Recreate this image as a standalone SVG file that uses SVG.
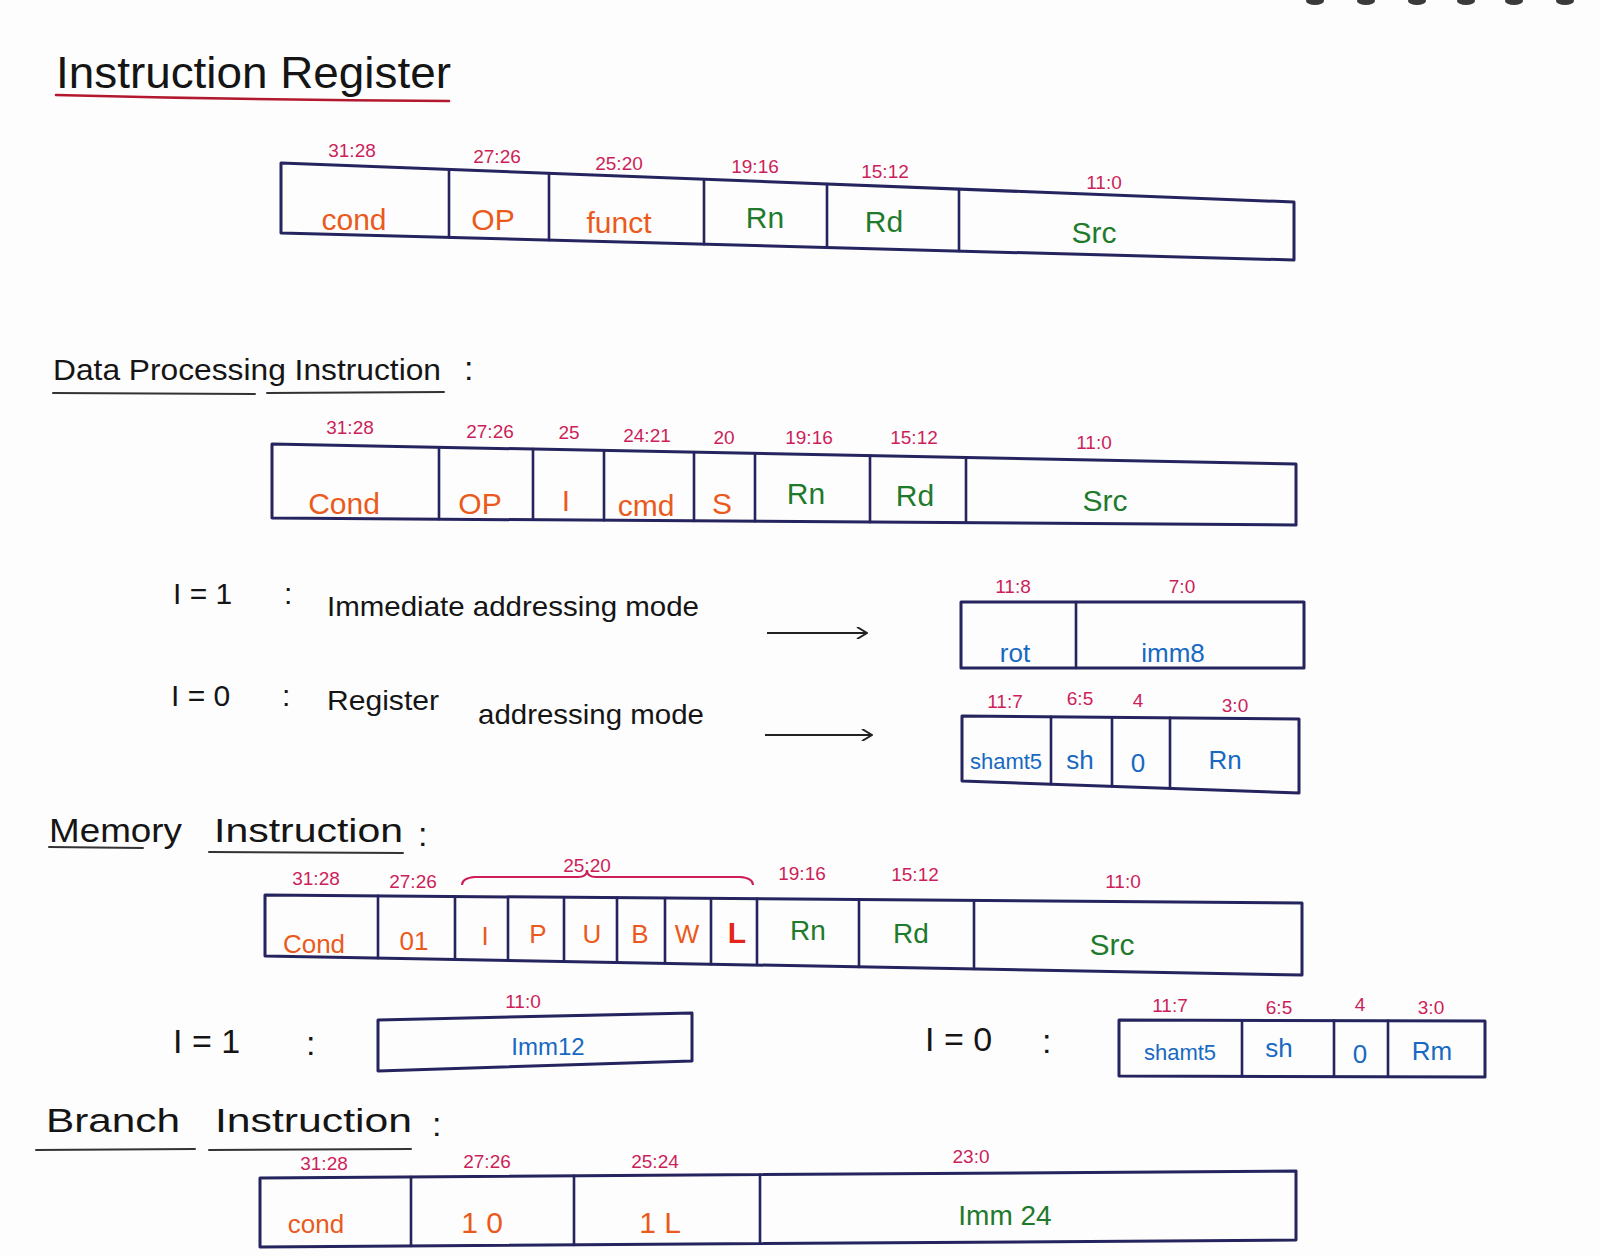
<svg xmlns="http://www.w3.org/2000/svg" width="1600" height="1256" viewBox="0 0 1600 1256">
<defs>
<style>
.bg{fill:#fdfdfd}
.box{fill:none;stroke:#25245e;stroke-width:3;stroke-linejoin:round;stroke-linecap:round}
.div{stroke:#25245e;stroke-width:2.6;stroke-linecap:round}
.title{font-family:"Liberation Sans",Arial,sans-serif;font-size:38px;fill:#151515}
.hw{font-family:"Liberation Sans",Arial,sans-serif;font-size:34px;fill:#151515}
.ul{fill:none;stroke:#333;stroke-width:2;stroke-linecap:round}
.ulr{fill:none;stroke:#b3192e;stroke-width:2.6;stroke-linecap:round}
.lbl{font-family:"Liberation Sans",Arial,sans-serif;font-size:19px;fill:#cc1f5a;text-anchor:middle}
.or{font-family:"Liberation Sans",Arial,sans-serif;font-size:30px;fill:#ea5a1c;text-anchor:middle}
.gr{font-family:"Liberation Sans",Arial,sans-serif;font-size:30px;fill:#1f7a2c;text-anchor:middle}
.bl{font-family:"Liberation Sans",Arial,sans-serif;font-size:26px;fill:#1769c2;text-anchor:middle}
.red{font-family:"Liberation Sans",Arial,sans-serif;font-size:30px;fill:#e2261a;font-weight:bold;text-anchor:middle}
.arr{stroke:#222;stroke-width:2.2;fill:none}
.brace{fill:none;stroke:#cc1f5a;stroke-width:2}
</style>
<marker id="ah" viewBox="0 0 12 12" refX="11" refY="6" markerWidth="12" markerHeight="12" markerUnits="userSpaceOnUse" orient="auto">
<path d="M1,0 L11,6 L1,12" fill="none" stroke="#222" stroke-width="2"/>
</marker>
</defs>
<rect class="bg" x="0" y="0" width="1600" height="1256"/>
<g id="binding" fill="#3a3a3a">
<ellipse cx="1315" cy="1" rx="9" ry="4"/><ellipse cx="1366" cy="1" rx="9" ry="4"/><ellipse cx="1417" cy="1" rx="9" ry="4"/><ellipse cx="1466" cy="1" rx="9" ry="4"/><ellipse cx="1514" cy="1" rx="9" ry="4"/><ellipse cx="1565" cy="1" rx="9" ry="4"/>
</g>

<!-- Section 1: Instruction Register -->
<g id="title-ir">
<text class="title" x="56" y="88" style="font-size:44px" textLength="395" lengthAdjust="spacingAndGlyphs">Instruction Register</text>
<path class="ulr" d="M56,95 Q250,100 449,101"/>
</g>
<g id="ir-register">
<path class="box" d="M281,163 L1294,202 L1294,260 L281,233 Z"/>
<line class="div" x1="449" y1="169.5" x2="449" y2="237.5"/>
<line class="div" x1="549" y1="173.3" x2="549" y2="240.1"/>
<line class="div" x1="704" y1="179.3" x2="704" y2="244.3"/>
<line class="div" x1="827" y1="184" x2="827" y2="247.6"/>
<line class="div" x1="959" y1="189.1" x2="959" y2="251.1"/>
<text class="lbl" x="352" y="157">31:28</text>
<text class="lbl" x="497" y="163">27:26</text>
<text class="lbl" x="619" y="170">25:20</text>
<text class="lbl" x="755" y="173">19:16</text>
<text class="lbl" x="885" y="178">15:12</text>
<text class="lbl" x="1104" y="189">11:0</text>
<text class="or" x="354" y="230">cond</text>
<text class="or" x="493" y="230">OP</text>
<text class="or" x="619" y="233">funct</text>
<text class="gr" x="765" y="228">Rn</text>
<text class="gr" x="884" y="232">Rd</text>
<text class="gr" x="1094" y="243">Src</text>
</g>

<!-- Section 2: Data Processing -->
<g id="title-dp">
<text class="hw" x="53" y="380" style="font-size:30px" textLength="388" lengthAdjust="spacingAndGlyphs">Data Processing Instruction</text>
<text class="hw" x="464" y="380">:</text>
<path class="ul" d="M53,393 L255,394"/>
<path class="ul" d="M267,393 L444,392"/>
</g>
<g id="dp-register">
<path class="box" d="M272,444 L1296,464 L1296,525 L272,518 Z"/>
<line class="div" x1="439" y1="447.3" x2="439" y2="519.1"/>
<line class="div" x1="533" y1="449.1" x2="533" y2="519.8"/>
<line class="div" x1="604" y1="450.5" x2="604" y2="520.3"/>
<line class="div" x1="694" y1="452.2" x2="694" y2="520.9"/>
<line class="div" x1="755" y1="453.4" x2="755" y2="521.3"/>
<line class="div" x1="870" y1="455.7" x2="870" y2="522.1"/>
<line class="div" x1="966" y1="457.6" x2="966" y2="522.7"/>
<text class="lbl" x="350" y="434">31:28</text>
<text class="lbl" x="490" y="438">27:26</text>
<text class="lbl" x="569" y="439">25</text>
<text class="lbl" x="647" y="442">24:21</text>
<text class="lbl" x="724" y="444">20</text>
<text class="lbl" x="809" y="444">19:16</text>
<text class="lbl" x="914" y="444">15:12</text>
<text class="lbl" x="1094" y="449">11:0</text>
<text class="or" x="344" y="514">Cond</text>
<text class="or" x="480" y="514">OP</text>
<text class="or" x="566" y="511">I</text>
<text class="or" x="646" y="516">cmd</text>
<text class="or" x="722" y="514">S</text>
<text class="gr" x="806" y="504">Rn</text>
<text class="gr" x="915" y="506">Rd</text>
<text class="gr" x="1105" y="511">Src</text>
</g>

<g id="mode-imm-text">
<text class="hw" x="173" y="604" style="font-size:30px">I = 1</text>
<text class="hw" x="284" y="604" style="font-size:30px">:</text>
<text class="hw" x="327" y="616" style="font-size:28px" textLength="372" lengthAdjust="spacingAndGlyphs">Immediate addressing mode</text>
</g>
<g id="dp-imm-field">
<path class="box" d="M961,602 L1304,602 L1304,668 L961,668 Z"/>
<line class="div" x1="1076" y1="602" x2="1076" y2="668"/>
<text class="lbl" x="1013" y="593">11:8</text>
<text class="lbl" x="1182" y="593">7:0</text>
<text class="bl" x="1015" y="662">rot</text>
<text class="bl" x="1173" y="662">imm8</text>
</g>
<g id="mode-reg-text">
<text class="hw" x="171" y="706" style="font-size:30px">I = 0</text>
<text class="hw" x="282" y="706" style="font-size:30px">:</text>
<text class="hw" x="327" y="710" style="font-size:28px" textLength="112" lengthAdjust="spacingAndGlyphs">Register</text>
<text class="hw" x="478" y="724" style="font-size:28px" textLength="226" lengthAdjust="spacingAndGlyphs">addressing mode</text>
</g>
<g id="dp-reg-field">
<path class="box" d="M962,716 L1299,719 L1299,793 L962,781 Z"/>
<line class="div" x1="1051" y1="716.8" x2="1051" y2="784.2"/>
<line class="div" x1="1112" y1="717.3" x2="1112" y2="786.3"/>
<line class="div" x1="1170" y1="717.9" x2="1170" y2="788.4"/>
<text class="lbl" x="1005" y="708">11:7</text>
<text class="lbl" x="1080" y="705">6:5</text>
<text class="lbl" x="1138" y="707">4</text>
<text class="lbl" x="1235" y="712">3:0</text>
<text class="bl" x="1006" y="769" style="font-size:22px">shamt5</text>
<text class="bl" x="1080" y="769">sh</text>
<text class="bl" x="1138" y="772">0</text>
<text class="bl" x="1225" y="769">Rn</text>
</g>

<!-- Section 3: Memory -->
<g id="title-mem">
<text class="hw" x="49" y="842" textLength="133" lengthAdjust="spacingAndGlyphs">Memory</text>
<text class="hw" x="214" y="842" textLength="189" lengthAdjust="spacingAndGlyphs">Instruction</text>
<text class="hw" x="418" y="846">:</text>
<path class="ul" d="M49,847 L143,848"/>
<path class="ul" d="M209,852 L403,853"/>
</g>
<g id="mem-register">
<path class="box" d="M265,895 L1302,903 L1302,975 L265,956 Z"/>
<line class="div" x1="378" y1="895.9" x2="378" y2="958.1"/>
<line class="div" x1="455" y1="896.5" x2="455" y2="959.5"/>
<line class="div" x1="508" y1="896.9" x2="508" y2="960.4"/>
<line class="div" x1="564" y1="897.3" x2="564" y2="961.5"/>
<line class="div" x1="617" y1="897.7" x2="617" y2="962.4"/>
<line class="div" x1="665" y1="898.1" x2="665" y2="963.3"/>
<line class="div" x1="711" y1="898.4" x2="711" y2="964.2"/>
<line class="div" x1="757" y1="898.8" x2="757" y2="965"/>
<line class="div" x1="859" y1="899.6" x2="859" y2="966.9"/>
<line class="div" x1="974" y1="900.5" x2="974" y2="969"/>
<text class="lbl" x="316" y="885">31:28</text>
<text class="lbl" x="413" y="888">27:26</text>
<path class="brace" d="M462,885 Q462,878 475,877 L578,877 Q587,877 587,870 Q587,877 596,877 L740,877 Q753,878 753,885"/>
<text class="lbl" x="587" y="872">25:20</text>
<text class="lbl" x="802" y="880">19:16</text>
<text class="lbl" x="915" y="881">15:12</text>
<text class="lbl" x="1123" y="888">11:0</text>
<text class="or" x="314" y="953" style="font-size:26px">Cond</text>
<text class="or" x="414" y="950" style="font-size:26px">01</text>
<text class="or" x="485" y="945" style="font-size:26px">I</text>
<text class="or" x="538" y="943" style="font-size:26px">P</text>
<text class="or" x="592" y="943" style="font-size:26px">U</text>
<text class="or" x="640" y="943" style="font-size:26px">B</text>
<text class="or" x="687" y="943" style="font-size:26px">W</text>
<text class="red" x="737" y="943">L</text>
<text class="gr" x="808" y="940" style="font-size:28px">Rn</text>
<text class="gr" x="911" y="943" style="font-size:28px">Rd</text>
<text class="gr" x="1112" y="955">Src</text>
</g>

<g id="mem-imm-text">
<text class="hw" x="173" y="1053">I = 1</text>
<text class="hw" x="306" y="1055">:</text>
</g>
<g id="mem-imm-field">
<path class="box" d="M378,1020 L692,1013 L692,1061 L378,1071 Z"/>
<text class="lbl" x="523" y="1008">11:0</text>
<text class="bl" x="548" y="1055" style="font-size:24px">Imm12</text>
</g>
<g id="mem-reg-text">
<text class="hw" x="925" y="1051">I = 0</text>
<text class="hw" x="1042" y="1053">:</text>
</g>
<g id="mem-reg-field">
<path class="box" d="M1119,1020 L1485,1021 L1485,1077 L1119,1076 Z"/>
<line class="div" x1="1242" y1="1020.3" x2="1242" y2="1076.3"/>
<line class="div" x1="1334" y1="1020.6" x2="1334" y2="1076.6"/>
<line class="div" x1="1388" y1="1020.7" x2="1388" y2="1076.7"/>
<text class="lbl" x="1170" y="1012">11:7</text>
<text class="lbl" x="1279" y="1014">6:5</text>
<text class="lbl" x="1360" y="1011">4</text>
<text class="lbl" x="1431" y="1014">3:0</text>
<text class="bl" x="1180" y="1060" style="font-size:22px">shamt5</text>
<text class="bl" x="1279" y="1057">sh</text>
<text class="bl" x="1360" y="1063">0</text>
<text class="bl" x="1432" y="1060">Rm</text>
</g>

<!-- Section 4: Branch -->
<g id="title-br">
<text class="hw" x="46" y="1132" textLength="134" lengthAdjust="spacingAndGlyphs">Branch</text>
<text class="hw" x="215" y="1132" textLength="197" lengthAdjust="spacingAndGlyphs">Instruction</text>
<text class="hw" x="432" y="1136">:</text>
<path class="ul" d="M36,1150 L195,1149"/>
<path class="ul" d="M209,1150 L411,1149"/>
</g>
<g id="br-register">
<path class="box" d="M260,1178 L1296,1171 L1296,1240 L260,1247 Z"/>
<line class="div" x1="411" y1="1177" x2="411" y2="1246"/>
<line class="div" x1="574" y1="1175.9" x2="574" y2="1244.9"/>
<line class="div" x1="760" y1="1174.6" x2="760" y2="1243.6"/>
<text class="lbl" x="324" y="1170">31:28</text>
<text class="lbl" x="487" y="1168">27:26</text>
<text class="lbl" x="655" y="1168">25:24</text>
<text class="lbl" x="971" y="1163">23:0</text>
<text class="or" x="316" y="1233" style="font-size:26px">cond</text>
<text class="or" x="482" y="1233">1 0</text>
<text class="or" x="660" y="1233">1 L</text>
<text class="gr" x="1005" y="1225" style="font-size:28px">Imm 24</text>
</g>

<g id="connectors">
<line class="arr" x1="767" y1="633" x2="867" y2="633" marker-end="url(#ah)"/>
<line class="arr" x1="765" y1="735" x2="872" y2="735" marker-end="url(#ah)"/>
</g>
</svg>
